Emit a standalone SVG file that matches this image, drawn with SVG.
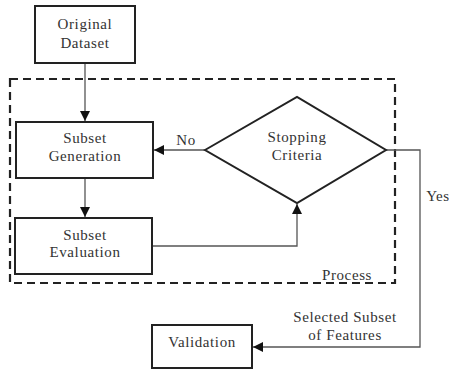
<svg xmlns="http://www.w3.org/2000/svg" width="449" height="370" viewBox="0 0 449 370">
<style>
.box{fill:#fff;stroke:#222;stroke-width:2}
.t{font-family:"Liberation Serif","Times New Roman",serif;font-size:15px;letter-spacing:0.6px;fill:#333;text-anchor:middle}
.c{fill:none;stroke:#555;stroke-width:1.3}
.dash{fill:none;stroke:#222;stroke-width:2.2;stroke-dasharray:8,5}
</style>
<defs>
<marker id="ah" viewBox="0 0 10 10" refX="10" refY="5" markerWidth="10" markerHeight="10" markerUnits="userSpaceOnUse" orient="auto">
<path d="M0,0 L10,5 L0,10 z" fill="#111"/>
</marker>
</defs>
<rect fill="#fff" width="449" height="370"/>
<g id="process">
<rect class="dash" x="10" y="79" width="385" height="204"/>
<text class="t" x="347" y="280">Process</text>
</g>
<g id="connectors">
<path class="c" d="M85,63 V121" marker-end="url(#ah)"/>
<path class="c" d="M85,178 V217" marker-end="url(#ah)"/>
<path class="c" d="M205,150 H154" marker-end="url(#ah)"/>
<path class="c" d="M152,246 H297 V204" marker-end="url(#ah)"/>
<path class="c" d="M386,150 H420 V347 H253" marker-end="url(#ah)"/>
<text class="t" x="186" y="145">No</text>
<text class="t" x="438" y="201">Yes</text>
<text class="t" x="345" y="322">Selected Subset</text>
<text class="t" x="345" y="340">of Features</text>
</g>
<g id="original">
<rect class="box" x="35" y="6" width="100" height="57"/>
<text class="t" x="85" y="29">Original</text>
<text class="t" x="85" y="48">Dataset</text>
</g>
<g id="generation">
<rect class="box" x="16" y="122" width="137" height="56"/>
<text class="t" x="85" y="143">Subset</text>
<text class="t" x="85" y="161">Generation</text>
</g>
<g id="evaluation">
<rect class="box" x="15" y="218" width="137" height="56"/>
<text class="t" x="85" y="240">Subset</text>
<text class="t" x="85" y="257">Evaluation</text>
</g>
<g id="stopping">
<polygon class="box" points="205,150 297,97 386,150 297,203"/>
<text class="t" x="297" y="142">Stopping</text>
<text class="t" x="297" y="160">Criteria</text>
</g>
<g id="validation">
<rect class="box" x="152" y="325" width="100" height="43"/>
<text class="t" x="202" y="347">Validation</text>
</g>
</svg>
